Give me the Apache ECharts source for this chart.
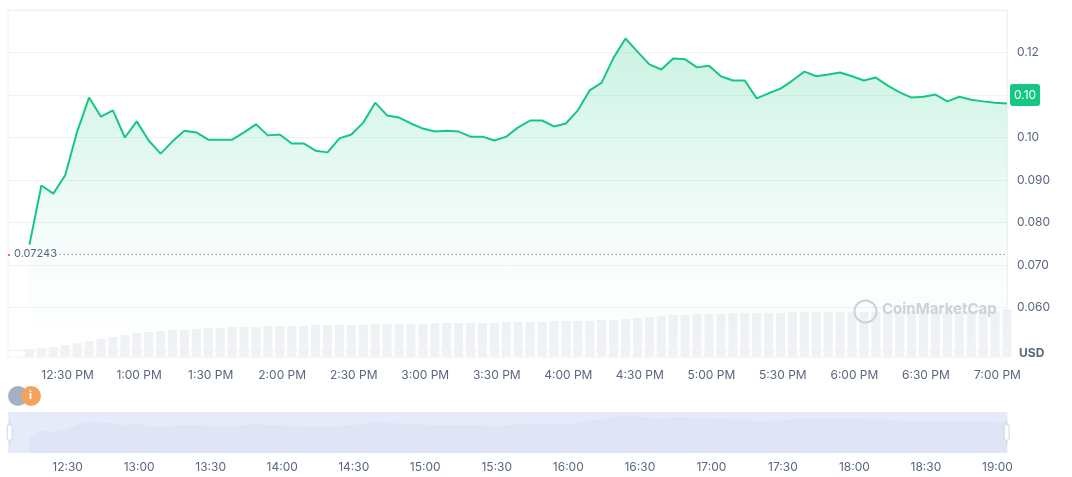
<!DOCTYPE html>
<html>
<head>
<meta charset="utf-8">
<script src="https://cdn.jsdelivr.net/npm/echarts@6/dist/echarts.min.js"></script>
<style>
  html, body { margin: 0; background: #fff; }
  #main { width: 1072px; height: 477px; }
</style>
</head>
<body>
<div id="main"></div>
<script>
// price every 5 min from 12:14
const prices = [
  0.0748, 0.0887, 0.0868, 0.0911, 0.1014, 0.1094, 0.1049, 0.1064, 0.1000, 0.1038,
  0.0993, 0.0962, 0.0991, 0.1016, 0.1012, 0.0995, 0.0995, 0.0995, 0.1012, 0.1031,
  0.1005, 0.1007, 0.0986, 0.0986, 0.0969, 0.0965, 0.0998, 0.1007, 0.1035, 0.1082,
  0.1052, 0.1047, 0.1033, 0.1021, 0.1014, 0.1016, 0.1014, 0.1002, 0.1002, 0.0993,
  0.1002, 0.1024, 0.1040, 0.1040, 0.1026, 0.1033, 0.1064, 0.1111, 0.1129, 0.1188,
  0.1233, 0.1202, 0.1172, 0.1160, 0.1186, 0.1184, 0.1165, 0.1169, 0.1144, 0.1134,
  0.1134, 0.1092, 0.1104, 0.1115, 0.1134, 0.1155, 0.1144, 0.1148, 0.1153, 0.1144,
  0.1134, 0.1141, 0.1122, 0.1106, 0.1094, 0.1096, 0.1101, 0.1085, 0.1096, 0.1089,
  0.1085, 0.1082, 0.1080
]
const volumes = [
  8, 9, 10, 12, 14, 16, 18, 20, 22, 24,
  25, 26, 27, 27, 28, 29, 29, 30, 30, 30,
  31, 31, 31, 31, 32, 32, 32, 32, 32, 33,
  33, 33, 33, 33, 34, 34, 34, 34, 34, 34,
  35, 35, 35, 35, 36, 36, 36, 36, 37, 37,
  38, 39, 40, 41, 42, 42, 43, 43, 43, 44,
  44, 44, 44, 44, 45, 45, 45, 45, 45, 45,
  45, 45, 45, 46, 46, 46, 46, 46, 46, 46,
  46, 46, 48
]
const openPrice = 0.07243
const lastPrice = 0.1080
// x values are minutes since midnight
const startMin = 12 * 60 + 14
const axisMin = 12 * 60 + 5
const axisMax = 19 * 60 + 4
const step = 5
const tickMins = []
for (let t = 12 * 60 + 30; t <= 19 * 60; t += 30) tickMins.push(t)

const priceData = prices.map((v, i) => [startMin + i * step, v])
const volData = volumes.map((v, i) => [startMin + i * step, v])

function pm(t) {
  let h = Math.floor(t / 60) % 12
  if (h === 0) h = 12
  return h + ':' + String(t % 60).padStart(2, '0') + ' PM'
}
function hm(t) {
  return Math.floor(t / 60) + ':' + String(t % 60).padStart(2, '0')
}

const labelColor = '#58667e'
const chart = echarts.init(document.getElementById('main'))
chart.setOption({
  animation: false,
  textStyle: { fontFamily: 'Inter, sans-serif' },
  grid: [
    { left: 8, right: 65, top: 10, height: 340 },
    { left: 8, right: 65, top: 10, bottom: 120, show: true, borderColor: '#eff2f5', backgroundColor: 'transparent' },
    { left: 8, right: 65, top: 412, height: 41 }
  ],
  xAxis: [
    { type: 'value', gridIndex: 0, min: axisMin, max: axisMax, show: false },
    {
      type: 'value', gridIndex: 1, min: axisMin, max: axisMax,
      axisLine: { show: false }, axisTick: { show: false }, splitLine: { show: false },
      axisLabel: { color: labelColor, fontSize: 12, margin: 12, formatter: pm, customValues: tickMins }
    },
    {
      type: 'value', gridIndex: 2, min: axisMin, max: axisMax,
      axisLine: { show: false }, axisTick: { show: false },
      splitLine: { show: false },
      axisLabel: { color: labelColor, fontSize: 12, margin: 8, formatter: hm, customValues: tickMins }
    }
  ],
  yAxis: [
    {
      type: 'value', gridIndex: 0, position: 'right', min: 0.05, max: 0.13, interval: 0.01,
      axisLine: { show: true, lineStyle: { color: '#eff2f5' } }, axisTick: { show: false },
      splitLine: { lineStyle: { color: '#eff2f5' } },
      axisLabel: {
        color: labelColor, fontSize: 12, margin: 10,
        formatter: v => {
          const r = Math.round(v * 1000) / 1000
          if (r === 0.05 || r === 0.13 || r === 0.11) return ''
          return r >= 0.1 ? r.toFixed(2) : r.toFixed(3)
        }
      }
    },
    { type: 'value', gridIndex: 1, min: 0, max: 347, show: false },
    { type: 'value', gridIndex: 2, min: 0.04, max: 0.13, show: false }
  ],
  dataZoom: [{
    type: 'slider', xAxisIndex: [0, 1, 2], start: 0, end: 100,
    left: 8, right: 65, top: 412, height: 41,
    borderColor: 'transparent', backgroundColor: 'transparent',
    fillerColor: 'rgba(220,226,245,0.4)',
    showDetail: false, showDataShadow: false, brushSelect: false,
    handleSize: '60%', handleStyle: { color: '#fff', borderColor: '#cfd6e4' },
    moveHandleSize: 0
  }],
  series: [
    {
      type: 'bar', xAxisIndex: 1, yAxisIndex: 1, data: volData, barWidth: 9,
      itemStyle: { color: '#f0f2f5' }, silent: true, z: 1
    },
    {
      type: 'line', xAxisIndex: 0, yAxisIndex: 0, data: priceData,
      showSymbol: false, lineStyle: { color: '#16c784', width: 2 },
      areaStyle: {
        color: new echarts.graphic.LinearGradient(0, 0, 0, 1, [
          { offset: 0, color: 'rgba(22,199,132,0.32)' },
          { offset: 0.7, color: 'rgba(22,199,132,0.04)' },
          { offset: 1, color: 'rgba(22,199,132,0)' }
        ]),
        origin: 'start'
      },
      markLine: {
        silent: true, symbol: 'none',
        data: [
          [
            { coord: [12 * 60 + 25, openPrice], lineStyle: { type: [1, 3], color: '#58667e', width: 1 }, label: { show: false } },
            { coord: [axisMax, openPrice] }
          ],
          {
            yAxis: lastPrice,
            lineStyle: { color: 'transparent' },
            label: {
              show: true, position: 'end', formatter: '0.10', color: '#fff', fontSize: 12,
              backgroundColor: '#16c784', borderRadius: 3, padding: [5, 4], distance: 3,
              verticalAlign: 'middle'
            }
          }
        ]
      }
    },
    {
      type: 'line', xAxisIndex: 2, yAxisIndex: 2, data: priceData, showSymbol: false, silent: true,
      lineStyle: { width: 0 }, areaStyle: { color: '#dbe1f6', origin: 'start' }
    }
  ],
  graphic: [
    { type: 'rect', left: 8, top: 412, shape: { width: 999, height: 41 }, style: { fill: '#eef0fb' }, z: -1 },
    { type: 'circle', left: 8, top: 254, shape: { r: 1 }, style: { fill: '#ea3943' } },
    { type: 'text', left: 14, top: 248, style: { text: String(openPrice), fill: '#58667e', font: '11px Inter, sans-serif' } },
    { type: 'circle', left: 852, top: 298, z: 100, shape: { r: 11 }, style: { fill: 'none', stroke: '#cdd2da', lineWidth: 2 } },
    { type: 'text', left: 882, top: 302, z: 100, style: { text: 'CoinMarketCap', fill: '#cdd2da', font: 'bold 15px Inter, sans-serif' } },
    { type: 'text', left: 1019, top: 347, style: { text: 'USD', fill: '#58667e', font: 'bold 12px Inter, sans-serif' } },
    { type: 'circle', left: 8, top: 386, shape: { r: 10 }, style: { fill: '#a6b0c3' } },
    { type: 'circle', left: 21, top: 386, shape: { r: 10 }, style: { fill: '#f3a45c' } },
    { type: 'text', left: 29, top: 390, style: { text: 'i', fill: '#fff', font: 'bold 11px Inter, sans-serif' } }
  ]
})
</script>
</body>
</html>
